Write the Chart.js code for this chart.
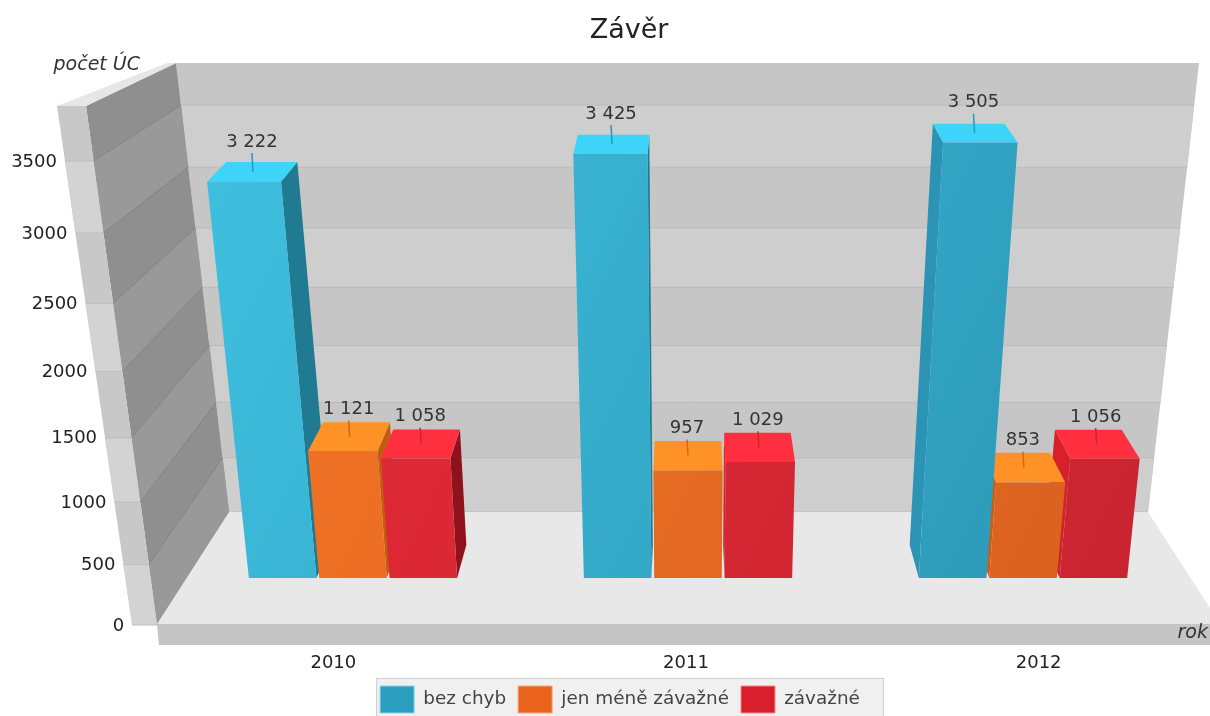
<!DOCTYPE html>
<html>
    <head>
        <meta charset="utf-8">
        <title>Závěr</title>
        <script src="https://cdn.jsdelivr.net/npm/chart.js@4.4.1"></script>
        <style>
            html, body {
                margin: 0;
                padding: 0;
                background: #fff;
            }
            #container {
                width: 100vw;
                height: 100vh;
            }
        </style>
    </head>
    <body>
        <div id="container">
            <canvas id="vis"></canvas>
        </div>
        <script>
            const years = ['2010', '2011', '2012'];
            const bezChyb = [3222, 3425, 3505];
            const meneZavazne = [1121, 957, 853];
            const zavazne = [1058, 1029, 1056];
            const seriesNames = ['bez chyb', 'jen méně závažné', 'závažné'];
            const yTitle = 'počet ÚC';
            const xTitle = 'rok';

            const fontFamily = '"DejaVu Sans", sans-serif';
            const legendColors = ['#2b9fbf', '#e9631b', '#d91f2b'];
            const legendBorders = ['#8fd3e4', '#f5a97e', '#ee8a90'];
            const frontLight = ['#3fc0e0', '#f57527', '#e62a37'];
            const frontDark = ['#2c97b6', '#d9621f', '#c92530'];
            const topColors = ['#3cd4f8', '#ff9226', '#ff2f3f'];
            const sideDark = ['#1f7a92', '#c45c10', '#8f111b'];
            const sideLight = ['#2b94b4', '#c75f18', '#d8202a'];

            // vanishing point of the bars and how much they grow towards the top
            const vpX = 688;
            const floorScale = 0.95;
            const growth = 0.00024;
            const depthScale = 0.96;

            // value -> pixel is slightly curved because the picture is in perspective
            class TiltedScale extends Chart.LinearScale {
                static id = 'tilted';
                static defaults = Chart.LinearScale.defaults;

                getPixelForValue(value) {
                    const o = this.options;
                    const u = value / 500;
                    return this.bottom - o.lift - (o.curveA * u + o.curveB * u * u);
                }

                _computeLabelItems(chartArea) {
                    const items = super._computeLabelItems(chartArea);
                    for (const item of items) {
                        const y = item.options.translation[1];
                        item.options.translation[0] = edgeX(outerEdge, y) - 8;
                        item.options.translation[1] = y + 1;
                        item.options.textAlign = 'right';
                    }
                    return items;
                }
            }
            Chart.register(TiltedScale);

            const outerEdge = [57, 106, 132, 624];
            const innerEdge = [86, 106, 157, 624];
            const backEdge = [176, 63, 229, 512];

            function edgeX(edge, y) {
                return edge[0] + (edge[2] - edge[0]) * (y - edge[1]) / (edge[3] - edge[1]);
            }

            function poly(ctx, fill, pts) {
                ctx.beginPath();
                ctx.moveTo(pts[0][0], pts[0][1]);
                for (let i = 1; i < pts.length; i++) {
                    ctx.lineTo(pts[i][0], pts[i][1]);
                }
                ctx.closePath();
                ctx.fillStyle = fill;
                ctx.fill();
            }

            function line(ctx, color, width, x1, y1, x2, y2) {
                ctx.beginPath();
                ctx.moveTo(x1, y1);
                ctx.lineTo(x2, y2);
                ctx.strokeStyle = color;
                ctx.lineWidth = width;
                ctx.stroke();
            }

            function formatValue(v) {
                return String(v).replace(/\B(?=(\d{3})+$)/g, ' ');
            }

            const scene = {
                id: 'scene',
                afterLayout(chart) {
                    chart.titleBlock.left = 48;
                    chart.legend.left += 15;
                    chart.legend.right += 15;
                    chart.legend.top += 7;
                    chart.legend.bottom += 7;
                    // the category axis runs a little past the canvas edge
                    const x = chart.scales.x;
                    x.right = 1215;
                    x.width = x.right - x.left;
                    x.configure();
                    // tick labels are clipped to the scale box, let them hang lower
                    x.bottom = 690;
                },
                beforeDraw(chart) {
                    const ctx = chart.ctx;
                    const front = chart.scales.y;
                    const back = chart.scales.yBack;
                    const ticks = front.ticks.map(t => t.value);
                    ctx.save();

                    // back wall, bands from the floor upwards
                    const wallTop = backEdge[1];
                    const wallRight = y => 1199 + (1148 - 1199) * (y - 63) / (512 - 63);
                    poly(ctx, '#c6c6c6', [[176, wallTop], [1199, wallTop], [1148, 512], [229, 512]]);
                    ticks.forEach((v, i) => {
                        if (i % 2 === 0) {
                            const y1 = back.getPixelForValue(v);
                            const y2 = i + 1 < ticks.length ? back.getPixelForValue(ticks[i + 1]) : wallTop;
                            poly(ctx, '#cecece', [[edgeX(backEdge, y2), y2], [wallRight(y2), y2], [wallRight(y1), y1], [edgeX(backEdge, y1), y1]]);
                        }
                    });
                    ticks.forEach(v => {
                        const y = back.getPixelForValue(v);
                        line(ctx, '#bcbcbc', 1, edgeX(backEdge, y), y, wallRight(y), y);
                    });

                    // left wall: dark inner face and light side, banded the same way
                    poly(ctx, '#8f8f8f', [[86, 106], [176, 63], [229, 512], [157, 624]]);
                    poly(ctx, '#c8c8c8', [[57, 106], [86, 106], [157, 624], [132, 624]]);
                    ticks.forEach((v, i) => {
                        if (i % 2 === 0 && i + 1 < ticks.length) {
                            const f1 = front.getPixelForValue(v);
                            const f2 = front.getPixelForValue(ticks[i + 1]);
                            const b1 = back.getPixelForValue(v);
                            const b2 = back.getPixelForValue(ticks[i + 1]);
                            poly(ctx, '#999999', [[edgeX(innerEdge, f1), f1], [edgeX(innerEdge, f2), f2], [edgeX(backEdge, b2), b2], [edgeX(backEdge, b1), b1]]);
                            poly(ctx, '#d3d3d3', [[edgeX(outerEdge, f1), f1], [edgeX(outerEdge, f2), f2], [edgeX(innerEdge, f2), f2], [edgeX(innerEdge, f1), f1]]);
                        }
                    });
                    poly(ctx, '#e6e6e6', [[57, 106], [86, 106], [176, 63], [167, 63]]);
                    ticks.forEach(v => {
                        const f = front.getPixelForValue(v);
                        const b = back.getPixelForValue(v);
                        line(ctx, '#858585', 1, edgeX(innerEdge, f), f, edgeX(backEdge, b), b);
                        line(ctx, '#bdbdbd', 1, edgeX(outerEdge, f), f, edgeX(innerEdge, f), f);
                    });

                    // floor and its front edge
                    poly(ctx, '#e8e8e8', [[229, 512], [1148, 512], [1210, 608], [1210, 624], [157, 624]]);
                    poly(ctx, '#c4c4c4', [[157, 624], [1210, 624], [1210, 645], [159, 645]]);

                    // legend frame
                    ctx.fillStyle = '#f0f0f0';
                    ctx.fillRect(376.5, 678.5, 507, 38);
                    ctx.strokeStyle = '#cfcfcf';
                    ctx.lineWidth = 1;
                    ctx.strokeRect(376.5, 678.5, 507, 38);

                    ctx.font = 'italic 19px ' + fontFamily;
                    ctx.fillStyle = '#333';
                    ctx.textBaseline = 'middle';
                    ctx.textAlign = 'right';
                    ctx.fillText(yTitle, 140, 65);
                    ctx.fillText(xTitle, 1208, 633);
                    ctx.restore();
                },
                // the flat bars are replaced by the solid ones below
                beforeDatasetDraw() {
                    return false;
                },
                afterDatasetsDraw(chart) {
                    const ctx = chart.ctx;
                    const midX = (chart.scales.x.left + chart.scales.x.right) / 2;
                    const bars = [];
                    chart.data.datasets.forEach((ds, i) => {
                        chart.getDatasetMeta(i).data.forEach((el, j) => {
                            bars.push({ el, i, value: ds.data[j] });
                        });
                    });
                    const toFloor = x => vpX + (x - midX) * floorScale;
                    // bars far from the vanishing point go first
                    bars.sort((a, b) => Math.abs(toFloor(b.el.x) - vpX) - Math.abs(toFloor(a.el.x) - vpX));

                    ctx.save();
                    for (const bar of bars) {
                        const { el, i } = bar;
                        const h = el.base - el.y;
                        const left = toFloor(el.x - el.width / 2);
                        const right = toFloor(el.x + el.width / 2);
                        const at = (x, height, isBack) => {
                            let px = vpX + (x - vpX) * (1 + growth * height);
                            let py = el.base - height;
                            if (isBack) {
                                px = vpX + (px - vpX) * depthScale;
                                py -= 33 - height * 0.033;
                            }
                            return [px, py];
                        };
                        const gradient = ctx.createLinearGradient(200, 150, 1100, 580);
                        gradient.addColorStop(0, frontLight[i]);
                        gradient.addColorStop(1, frontDark[i]);

                        if (right < vpX) {
                            poly(ctx, sideDark[i], [at(right, 0), at(right, h), at(right, h, true), at(right, 0, true)]);
                        } else if (left > vpX) {
                            poly(ctx, sideLight[i], [at(left, 0), at(left, h), at(left, h, true), at(left, 0, true)]);
                        }
                        poly(ctx, topColors[i], [at(left, h), at(right, h), at(right, h, true), at(left, h, true)]);
                        poly(ctx, gradient, [at(left, 0), at(left, h), at(right, h), at(right, 0)]);
                    }

                    // value labels with their little leader lines
                    ctx.font = '18px ' + fontFamily;
                    ctx.textAlign = 'center';
                    ctx.textBaseline = 'middle';
                    for (const bar of bars) {
                        const { el, i, value } = bar;
                        const h = el.base - el.y;
                        const mid = toFloor(el.x);
                        const frontPx = vpX + (mid - vpX) * (1 + growth * h);
                        const backPx = vpX + (frontPx - vpX) * depthScale;
                        const cx = (frontPx + backPx) / 2;
                        const cy = el.y - (33 - h * 0.033) / 2;
                        const lift = 26 + h * 0.01;
                        line(ctx, frontDark[i], 1.5, cx, cy, cx - 1, cy - lift + 11);
                        ctx.fillStyle = '#333';
                        ctx.fillText(formatValue(value), cx - 1, cy - lift);
                    }
                    ctx.restore();
                }
            };

            new Chart(document.getElementById('vis'), {
                type: 'bar',
                data: {
                    labels: years,
                    datasets: [bezChyb, meneZavazne, zavazne].map((values, i) => ({
                        label: seriesNames[i],
                        data: values,
                        yAxisID: 'yBars',
                        backgroundColor: legendColors[i],
                        borderColor: legendBorders[i],
                        borderWidth: 1,
                        categoryPercentage: 0.63,
                        barPercentage: 0.96
                    }))
                },
                plugins: [scene],
                options: {
                    responsive: true,
                    maintainAspectRatio: false,
                    animation: false,
                    plugins: {
                        tooltip: { enabled: false },
                        title: {
                            display: true,
                            text: 'Závěr',
                            color: '#222',
                            font: { family: fontFamily, size: 27, weight: 'normal' },
                            padding: { top: 15, bottom: 10 }
                        },
                        legend: {
                            position: 'bottom',
                            labels: {
                                boxWidth: 34,
                                boxHeight: 27,
                                padding: 12,
                                color: '#444',
                                font: { family: fontFamily, size: 18.4 }
                            }
                        }
                    },
                    scales: {
                        x: {
                            grid: { display: false, drawTicks: false },
                            border: { display: false },
                            ticks: {
                                padding: 28,
                                color: '#222',
                                font: { family: fontFamily, size: 18 }
                            },
                            afterFit: s => { s.height = 42; }
                        },
                        y: {
                            type: 'tilted',
                            position: 'left',
                            min: 0,
                            max: 3500,
                            lift: 0,
                            curveA: 59.5,
                            curveB: 0.97,
                            grid: { display: false, drawTicks: false },
                            border: { display: false },
                            ticks: {
                                stepSize: 500,
                                autoSkip: false,
                                color: '#222',
                                font: { family: fontFamily, size: 18 },
                                callback: v => String(v)
                            },
                            afterFit: s => { s.width = 157; }
                        },
                        yBars: {
                            type: 'tilted',
                            display: false,
                            min: 0,
                            max: 3500,
                            lift: 47,
                            curveA: 54,
                            curveB: 1.16
                        },
                        yBack: {
                            type: 'tilted',
                            display: false,
                            min: 0,
                            max: 3500,
                            lift: 113,
                            curveA: 53.5,
                            curveB: 0.66,
                            ticks: { stepSize: 500 }
                        }
                    }
                }
            });
        </script>
    </body>
</html>
